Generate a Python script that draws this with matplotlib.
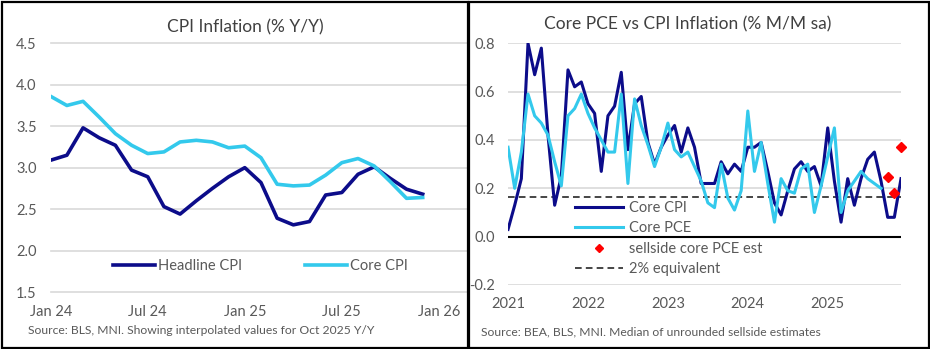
import matplotlib
matplotlib.use("Agg")
import matplotlib.pyplot as plt
from matplotlib.patches import Rectangle
from matplotlib.lines import Line2D

plt.rcParams['font.family'] = ['Lato', 'DejaVu Sans']

#colours
navy = '#0c0c8a'
cyan = '#33c9ec'
grey_txt = '#595959'
grid_col = '#d9d9d9'

###Left chart data: CPI Y/Y, Jan 2024 - Dec 2025
yy_months = list(range(24))
yy_ticks = [0, 6, 12, 18, 24]
yy_ticklabels = ['Jan 24', 'Jul 24', 'Jan 25', 'Jul 25', 'Jan 26']
headline_cpi = [3.09, 3.15, 3.48, 3.36, 3.27, 2.97, 2.89, 2.53, 2.44, 2.60, 2.75, 2.89,
                3.00, 2.82, 2.39, 2.31, 2.35, 2.67, 2.70, 2.92, 3.01, 2.87, 2.74, 2.68]
core_cpi_yy = [3.86, 3.75, 3.80, 3.61, 3.41, 3.27, 3.17, 3.19, 3.31, 3.33, 3.31, 3.24,
               3.26, 3.12, 2.80, 2.78, 2.79, 2.91, 3.06, 3.11, 3.02, 2.83, 2.63, 2.64]

###Right chart data: M/M sa, Jan 2021 - Dec 2025
mm_ticks = [0, 12, 24, 36, 48]
mm_ticklabels = ['2021', '2022', '2023', '2024', '2025']
core_cpi_mm = [0.03, 0.13, 0.24, 0.80, 0.67, 0.78, 0.42, 0.13, 0.25, 0.69, 0.62, 0.64,
               0.55, 0.51, 0.27, 0.50, 0.54, 0.68, 0.36, 0.55, 0.58, 0.39, 0.30, 0.37,
               0.42, 0.46, 0.35, 0.45, 0.37, 0.22, 0.22, 0.22, 0.31, 0.26, 0.30, 0.27,
               0.37, 0.37, 0.39, 0.27, 0.14, 0.09, 0.19, 0.28, 0.31, 0.27, 0.29, 0.21,
               0.45, 0.23, 0.06, 0.24, 0.13, 0.24, 0.32, 0.35, 0.23, 0.08, 0.08, 0.24]
core_pce_mm = [0.37, 0.20, 0.35, 0.59, 0.50, 0.47, 0.42, 0.31, 0.21, 0.50, 0.53, 0.59,
               0.51, 0.45, 0.40, 0.35, 0.35, 0.59, 0.22, 0.57, 0.46, 0.38, 0.29, 0.37,
               0.47, 0.36, 0.33, 0.35, 0.29, 0.23, 0.14, 0.12, 0.30, 0.16, 0.11, 0.19,
               0.52, 0.27, 0.39, 0.22, 0.06, 0.24, 0.19, 0.18, 0.28, 0.30, 0.10, 0.21,
               0.33, 0.45, 0.10, 0.19, 0.23, 0.27, 0.24, 0.22, 0.20]
est_months = [57, 58, 59]
sellside_pce_est = [0.248, 0.18, 0.372]
two_pct_equiv = 0.165

W, H = 930, 349
fig = plt.figure(figsize=(W / 100, H / 100), dpi=100)

def fx(px): return px / W
def fy(py): return 1 - py / H

###Left panel
ax1 = fig.add_axes([fx(50.7), fy(292), fx(468 - 50.7), (292 - 43.3) / H])
for v in [1.5, 2.0, 2.5, 3.0, 3.5, 4.0, 4.5]:
    ax1.axhline(v, color=grid_col, lw=1.2, zorder=0, clip_on=False)
ax1.plot(yy_months, headline_cpi, color=navy, lw=2.6, label='Headline CPI')
ax1.plot(yy_months, core_cpi_yy, color=cyan, lw=2.6, label='Core CPI')
ax1.set_xlim(0, 25.8)
ax1.set_ylim(1.5, 4.5)
ax1.set_yticks([1.5, 2.0, 2.5, 3.0, 3.5, 4.0, 4.5])
ax1.set_yticklabels(['%.1f' % v for v in [1.5, 2.0, 2.5, 3.0, 3.5, 4.0, 4.5]])
ax1.set_xticks(yy_ticks)
ax1.set_xticklabels(yy_ticklabels)
ax1.tick_params(axis='y', length=0, pad=10, labelsize=10.5, labelcolor=grey_txt)
ax1.tick_params(axis='x', length=0, pad=9, labelsize=10.5, labelcolor=grey_txt)
for s in ax1.spines.values():
    s.set_visible(False)
ax1.legend(loc='center', bbox_to_anchor=(0.503, 0.105), ncol=2, frameon=False,
           fontsize=10.5, labelcolor=grey_txt, handlelength=2.9, handletextpad=0.2,
           columnspacing=4.3, borderpad=0)
fig.text(fx(245), fy(27), 'CPI Inflation (% Y/Y)', ha='center', va='center', fontsize=12.5, color='#404040')
fig.text(fx(28), fy(331), 'Source: BLS, MNI. Showing interpolated values for Oct 2025 Y/Y',
         ha='left', va='center', fontsize=8.7, color=grey_txt)

###Right panel
ax2 = fig.add_axes([fx(507.7), fy(285), fx(901 - 507.7), (285 - 43.3) / H])
for v in [-0.2, 0.2, 0.4, 0.6, 0.8]:
    ax2.axhline(v, color=grid_col, lw=1.2, zorder=0)
ax2.axhline(0, color='black', lw=1.5, zorder=1)
ax2.axhline(two_pct_equiv, color='#262626', lw=1.2, ls=(0, (4, 2.5)), zorder=2)
ax2.plot(range(len(core_cpi_mm)), core_cpi_mm, color=navy, lw=2.2, zorder=3)
ax2.plot(range(len(core_pce_mm)), core_pce_mm, color=cyan, lw=2.2, zorder=4)
ax2.plot(est_months, sellside_pce_est, ls='none', marker='D', ms=5, color='#ff0000', zorder=5, clip_on=False)
ax2.set_xlim(-0.05, 59)
ax2.set_ylim(-0.2, 0.8)
ax2.set_yticks([-0.2, 0.0, 0.2, 0.4, 0.6, 0.8])
ax2.set_yticklabels(['-0.2', '0.0', '0.2', '0.4', '0.6', '0.8'])
ax2.set_xticks(mm_ticks)
ax2.set_xticklabels(mm_ticklabels)
ax2.tick_params(axis='y', length=0, pad=9.5, labelsize=10.5, labelcolor=grey_txt)
ax2.tick_params(axis='x', length=0, pad=8.5, labelsize=10.5, labelcolor=grey_txt)
for s in ax2.spines.values():
    s.set_visible(False)
handles = [Line2D([], [], color=navy, lw=2.2),
           Line2D([], [], color=cyan, lw=2.2),
           Line2D([], [], ls='none', marker='D', ms=3.8, color='#ff0000'),
           Line2D([], [], color='#262626', lw=1.2, ls=(0, (4, 2.5)))]
labels = ['Core CPI', 'Core PCE', 'sellside core PCE est', '2% equivalent']
leg = ax2.legend(handles, labels, loc='center left', bbox_to_anchor=(0.171, 0.192), frameon=False,
                 fontsize=10.5, labelcolor=grey_txt, handlelength=3.3, handletextpad=0.4,
                 labelspacing=0.45, borderpad=0, borderaxespad=0)
fig.text(fx(688), fy(24), 'Core PCE vs CPI Inflation (% M/M sa)', ha='center', va='center',
         fontsize=12.5, color='#404040')
fig.text(fx(481), fy(332), 'Source: BEA, BLS, MNI. Median of unrounded sellside estimates',
         ha='left', va='center', fontsize=8.7, color=grey_txt)

#panel borders
fig.patches.append(Rectangle((fx(1.5), fy(347.5)), fx(468 - 1.5), (347.5 - 1.5) / H,
                             transform=fig.transFigure, fill=False, ec='black', lw=1.6))
fig.patches.append(Rectangle((fx(469), fy(347.5)), fx(928.5 - 469), (347.5 - 1.5) / H,
                             transform=fig.transFigure, fill=False, ec='black', lw=1.6))

fig.savefig('out.png', dpi=100)
